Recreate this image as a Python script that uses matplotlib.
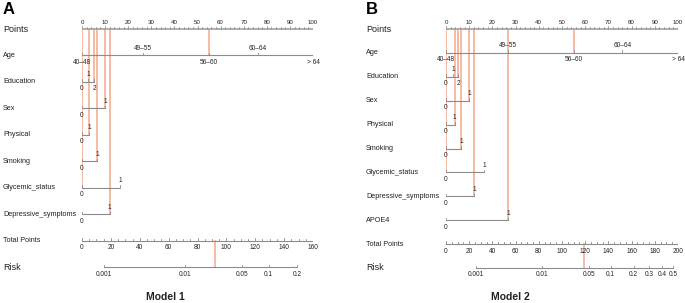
import numpy as np
import matplotlib.pyplot as plt
from matplotlib import transforms

plt.rcParams['font.family'] = ['Liberation Sans', 'DejaVu Sans']

# ---- data ----
age_levels = ['40\u201348', '49\u201355', '56\u201360', '60\u201364', '> 64']
edu_levels = ['0', '1', '2']
bin_levels = ['0', '1']

m1_vars = ['Age', 'Education', 'Sex', 'Physical', 'Smoking',
           'Glycemic_status', 'Depressive_symptoms']
m1_age_pts = [0, 26.5, 55, 76, 100]
m1_edu_pts = [0, 2.8, 5.4]
m1_sex_pts = [0, 10]
m1_phys_pts = [0, 3]
m1_smoke_pts = [0, 6.5]
m1_glyc_pts = [0, 16.5]
m1_dep_pts = [0, 12]
m1_case = [2, 2, 1, 1, 1, 0, 1]          # level chosen for the example patient
m1_total_max = 160
m1_total_step = 20
m1_risk_ticks = [0.001, 0.01, 0.05, 0.1, 0.2]
m1_logit = (-7.53, 0.04125)              # intercept, slope per total point

m2_vars = ['Age', 'Education', 'Sex', 'Physical', 'Smoking',
           'Glycemic_status', 'Depressive_symptoms', 'APOE4']
m2_age_pts = [0, 26.7, 55, 76, 100]
m2_edu_pts = [0, 3, 5.3]
m2_sex_pts = [0, 10]
m2_phys_pts = [0, 3.7]
m2_smoke_pts = [0, 6.5]
m2_glyc_pts = [0, 16.4]
m2_dep_pts = [0, 12]
m2_apoe_pts = [0, 26.7]
m2_case = [2, 2, 1, 1, 1, 0, 1, 1]
m2_total_max = 200
m2_total_step = 20
m2_risk_ticks = [0.001, 0.01, 0.05, 0.1, 0.2, 0.3, 0.4, 0.5]
m2_logit = (-7.957, 0.0406)

# ---- layout (pixels) ----
W, H = 685, 303
GRAY = '#8c8c8c'
RED = '#f4a385'
TXT = '#222222'

fig = plt.figure(figsize=(W / 100, H / 100), dpi=100)


def panel(letter, title, names, pts_list, levels_list, case, tmax, tstep,
          rticks, logit, x0, x1, lab_x, y_top, y_bot, title_x):
    n = len(names) + 3
    per = (y_bot - y_top) / (n - 1)
    ax = fig.add_axes([x0 / W, 0, (x1 - x0) / W, 1])
    ax.set_xlim(0, 100)
    ax.set_ylim(n - 1 + (H - y_bot) / per, -y_top / per)
    ax.axis('off')
    px = 1 / per            # one pixel in row units
    lab_tr = transforms.blended_transform_factory(fig.transFigure, ax.transData)

    def rowlabel(r, s, big=False):
        ax.text(lab_x / W, r, s, transform=lab_tr, ha='left', va='center',
                fontsize=6.5 if big else 5.2, color=TXT, clip_on=False)

    # Points scale
    rowlabel(0, 'Points', True)
    ax.plot([0, 100], [0, 0], color='#a8a8a8', lw=1.3, solid_capstyle='butt')
    for v in np.arange(0, 101, 2):
        ln = 3 if v % 10 == 0 else 1.8
        ax.plot([v, v], [0, -ln * px], color='#999999', lw=0.6)
    for v in range(0, 101, 10):
        ax.text(v, -7 * px, str(v), ha='center', va='center', fontsize=4.4, color=TXT)

    # predictor scales
    chosen = []
    for i, (name, pts, levels) in enumerate(zip(names, pts_list, levels_list)):
        r = i + 1
        rowlabel(r, name)
        ax.plot([pts[0], pts[-1]], [r, r], color=GRAY, lw=0.8, solid_capstyle='butt')
        for j, (p, s) in enumerate(zip(pts, levels)):
            ax.plot([p, p], [r, r - 2.5 * px], color=GRAY, lw=0.6)
            dy = 7 * px if j % 2 == 0 else -7 * px
            ax.text(p, r + dy, s, ha='center', va='center', fontsize=4.7, color=TXT)
        chosen.append((pts[case[i]], r))

    # example patient
    total = 0
    for p, r in chosen:
        ax.plot([p, p], [0, r], color=RED, lw=1.3, alpha=0.8, zorder=0)
        total += p

    # Total points
    rt = n - 2
    rowlabel(rt, 'Total Points')
    sc = 100 / tmax
    ax.plot([0, 100], [rt, rt], color=GRAY, lw=0.8)
    for v in np.arange(0, tmax + 1, 5):
        ln = 3 if v % tstep == 0 else 1.8
        ax.plot([v * sc, v * sc], [rt, rt - ln * px], color=GRAY, lw=0.6)
    for v in range(0, tmax + 1, tstep):
        ax.text(v * sc, rt + 7 * px, str(v), ha='center', va='center', fontsize=4.7, color=TXT)

    # Risk
    rr = n - 1
    rowlabel(rr, 'Risk', True)
    a, b = logit
    rx = [(np.log(p / (1 - p)) - a) / b * sc for p in rticks]
    ax.plot([rx[0], rx[-1]], [rr, rr], color=GRAY, lw=0.8)
    for x, p in zip(rx, rticks):
        ax.plot([x, x], [rr, rr - 2.5 * px], color=GRAY, lw=0.6)
        ax.text(x, rr + 7 * px, f'{p:g}', ha='center', va='center', fontsize=4.7, color=TXT)
    ax.plot([total * sc, total * sc], [rt, rr], color=RED, lw=1.3, alpha=0.8, zorder=0)

    fig.text(lab_x / W, 1 - 10 / H, letter, fontsize=12, fontweight='bold',
             ha='left', va='center', color='black')
    fig.text(title_x / W, 1 - 297 / H, title, fontsize=7.5, fontweight='bold',
             ha='center', va='center', color=TXT)


panel('A', 'Model 1', m1_vars,
      [m1_age_pts, m1_edu_pts, m1_sex_pts, m1_phys_pts, m1_smoke_pts, m1_glyc_pts, m1_dep_pts],
      [age_levels, edu_levels] + [bin_levels] * 5,
      m1_case, m1_total_max, m1_total_step, m1_risk_ticks, m1_logit,
      82, 313, 3, 29, 267, 165)

panel('B', 'Model 2', m2_vars,
      [m2_age_pts, m2_edu_pts, m2_sex_pts, m2_phys_pts, m2_smoke_pts, m2_glyc_pts,
       m2_dep_pts, m2_apoe_pts],
      [age_levels, edu_levels] + [bin_levels] * 6,
      m2_case, m2_total_max, m2_total_step, m2_risk_ticks, m2_logit,
      446, 678, 366, 29, 268, 510)

fig.savefig('out.png', dpi=100)
